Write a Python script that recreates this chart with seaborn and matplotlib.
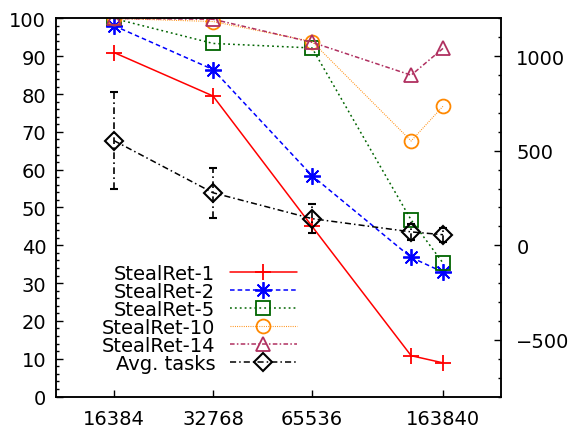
import matplotlib
matplotlib.use("Agg")
import matplotlib.pyplot as plt
import seaborn as sns
from matplotlib.ticker import MultipleLocator, NullLocator
from matplotlib.lines import Line2D

# data
sizes = [16384, 32768, 65536, 131072, 163840]
tick_sizes = [16384, 32768, 65536, 163840]

steal_1 = [91, 79.5, 45, 10.8, 8.9]
steal_2 = [98.1, 86.5, 58.4, 36.8, 32.9]
steal_5 = [100, 93.4, 92.2, 46.7, 35.3]
steal_10 = [100, 99.2, 93.9, 67.6, 76.8]
steal_14 = [100, 99.8, 93.7, 85, 92.1]

avg_tasks = [554, 278, 141, 71, 56]
avg_err = [255, 132, 75, 43, 37]

sns.set_style("ticks")
plt.rcParams["font.family"] = ["DejaVu Sans"]
plt.rcParams["font.size"] = 14
for key in ("text.color", "axes.labelcolor", "xtick.color", "ytick.color", "axes.edgecolor"):
    plt.rcParams[key] = "black"

fig = plt.figure(figsize=(5.71, 4.31), dpi=100)
ax = fig.add_axes([0.098, 0.0777, 0.7794, 0.8771])
ax.set_xscale("log", base=2)

asterisk = (8, 2, 0)
series = [
    ("StealRet-1", steal_1, "#ff0000", "+", "-"),
    ("StealRet-2", steal_2, "#0000ff", asterisk, (0, (3, 2))),
    ("StealRet-5", steal_5, "#006400", "s", (0, (1.2, 2))),
    ("StealRet-10", steal_10, "#ff8800", "o", (0, (0.8, 1.2))),
    ("StealRet-14", steal_14, "#b03060", "^", (0, (3, 1.5, 1, 1.5))),
]

handles = []
for name, vals, col, mk, ls in series:
    lw = 0.8 if name == "StealRet-10" else 1.1
    ms = 12 if mk in ("+", asterisk) else 10
    sns.lineplot(x=sizes, y=vals, ax=ax, color=col, marker=mk, linestyle=ls,
                 linewidth=lw, markersize=ms, markerfacecolor="none",
                 markeredgecolor=col, markeredgewidth=1.3)
    handles.append(Line2D([], [], color=col, marker=mk, linestyle=ls, linewidth=lw,
                          markersize=ms, markerfacecolor="none",
                          markeredgecolor=col, markeredgewidth=1.3, label=name))

ax.set_ylim(0, 100)
ax.set_xlim(16384 * 2 / 3, 16384 * 15)
ax.set_xticks(tick_sizes, [str(s) for s in tick_sizes])
ax.xaxis.set_minor_locator(NullLocator())
ax.yaxis.set_major_locator(MultipleLocator(10))
ax.yaxis.set_minor_locator(MultipleLocator(2))
ax.tick_params(axis="both", which="both", direction="in", right=False, top=False)
ax.tick_params(axis="y", which="major", length=5, width=1, pad=7)
ax.tick_params(axis="y", which="minor", length=2.5, width=1)
ax.tick_params(axis="x", which="major", length=5, width=1, pad=9)

# right axis: average number of tasks
ax2 = ax.twinx()
dashdot = (0, (4, 2, 1, 2))
sns.lineplot(x=sizes, y=avg_tasks, ax=ax2, color="black", marker="D", linestyle=dashdot,
             linewidth=1.1, markersize=9, markerfacecolor="none",
             markeredgecolor="black", markeredgewidth=1.5)
eb = ax2.errorbar(sizes, avg_tasks, yerr=avg_err, fmt="none", ecolor="black",
                  elinewidth=1.2, capsize=3, capthick=1.5)
eb[2][0].set_linestyle(dashdot)
handles.append(Line2D([], [], color="black", marker="D", linestyle=dashdot, linewidth=1.1,
                      markersize=9, markerfacecolor="none", markeredgecolor="black",
                      markeredgewidth=1.5, label="Avg. tasks"))

ax2.set_ylim(-800, 1200)
ax2.set_yticks([-500, 0, 500, 1000])
ax2.yaxis.set_minor_locator(MultipleLocator(100))
ax2.tick_params(axis="y", which="both", direction="in")
ax2.tick_params(axis="y", which="major", length=5, width=1, pad=11)
ax2.tick_params(axis="y", which="minor", length=2.5, width=1)

for a in (ax, ax2):
    for sp in a.spines.values():
        sp.set_linewidth(1.1)
        sp.set_visible(True)

# label first, sample after it; matplotlib right-aligns the labels then
ax.legend(handles=handles, loc="upper right", bbox_to_anchor=(0.5416, 0.3505),
          frameon=False, markerfirst=False, numpoints=1, handlelength=3.45,
          handletextpad=0.75, labelspacing=-0.05, borderpad=0, borderaxespad=0,
          fontsize=14)

fig.savefig("out.png", dpi=100)
